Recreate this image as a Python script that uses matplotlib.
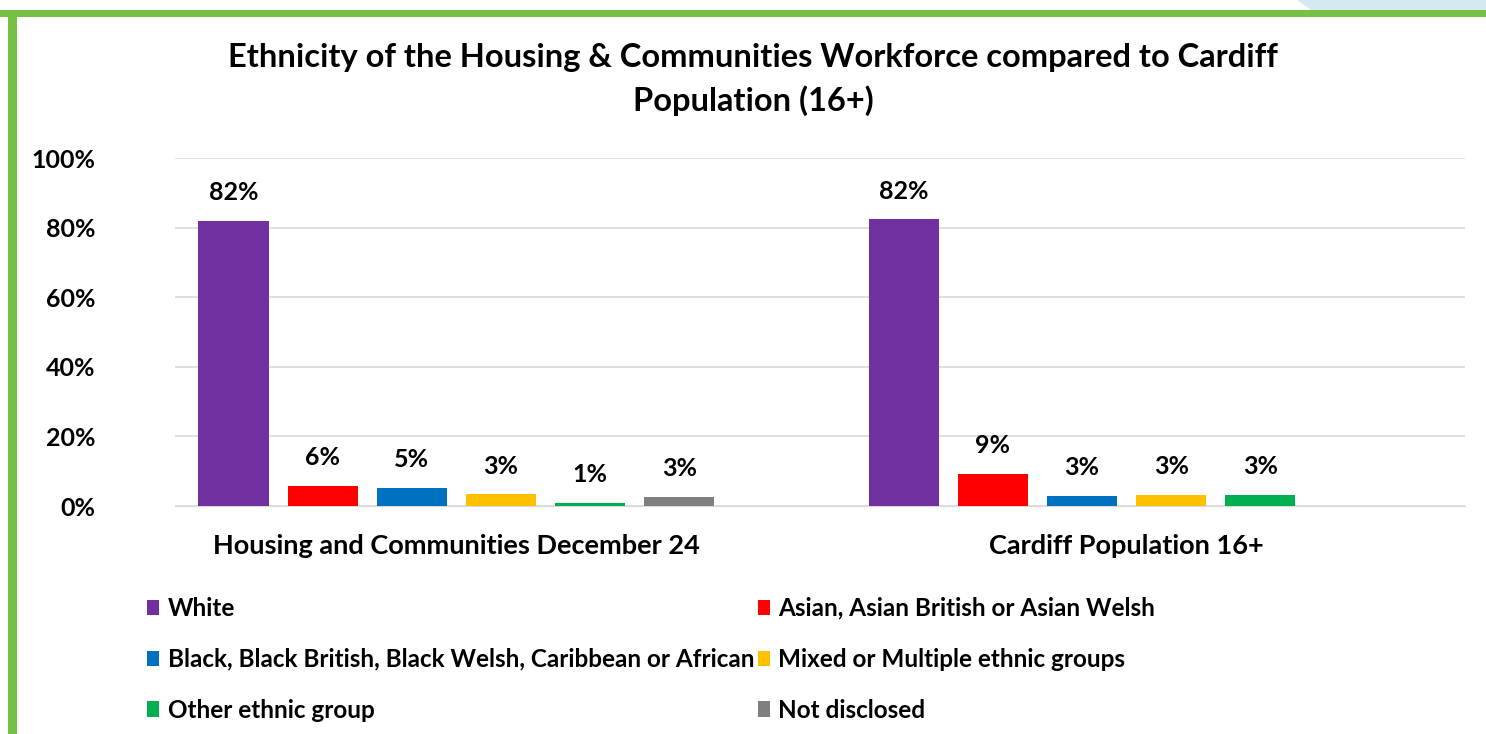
import numpy as np
import matplotlib.pyplot as plt
from matplotlib.patches import Rectangle, Polygon

plt.rcParams['font.family'] = ['Lato', 'DejaVu Sans']
plt.rcParams['font.weight'] = 'bold'

groups = ['Housing and Communities December 24', 'Cardiff Population 16+']
series = ['White', 'Asian, Asian British or Asian Welsh',
          'Black, Black British, Black Welsh, Caribbean or African',
          'Mixed or Multiple ethnic groups', 'Other ethnic group', 'Not disclosed']
colors = ['#7030A0', '#FF0000', '#0070C0', '#FFC000', '#00B050', '#7F7F7F']

# percentages per series: [Housing & Communities, Cardiff 16+]
white = [81.9, 82.4]
asian = [5.7, 9.2]
black = [5.2, 3.0]
mixed = [3.4, 3.2]
other = [0.9, 3.2]
not_disclosed = [2.6, np.nan]
values = [white, asian, black, mixed, other, not_disclosed]

fig = plt.figure(figsize=(14.86, 7.34), dpi=100)
fig.patch.set_facecolor('white')

# green frame (top and left) and corner decoration
fig.add_artist(Polygon([[0.873, 1.0], [1.0, 1.0], [1.0, 0.986], [0.882, 0.986]],
                       closed=True, transform=fig.transFigure, color='#D5EAF0', lw=0))
fig.add_artist(Rectangle((0.0, 1 - 17 / 734), 1.0, 7 / 734, transform=fig.transFigure,
                         color='#76C043', lw=0))
fig.add_artist(Rectangle((8 / 1486, 0.0), 9 / 1486, 1 - 10 / 734, transform=fig.transFigure,
                         color='#76C043', lw=0))

ax = fig.add_axes([175 / 1486, 1 - 506 / 734, 1290 / 1486, 348 / 734])
ax.set_facecolor('none')

slot = 0.133
width = 0.105
x = np.arange(len(groups))
for i, (name, vals, c) in enumerate(zip(series, values, colors)):
    pos = x + (i - 2.5) * slot
    bars = ax.bar(pos, vals, width=width, color=c, label=name, zorder=3)
    for b, v in zip(bars, vals):
        if np.isnan(v):
            continue
        ax.annotate(f'{v:.0f}%', (b.get_x() + b.get_width() / 2, v),
                    xytext=(0, 12), textcoords='offset points',
                    ha='center', va='bottom', fontsize=18, fontweight='bold')

ax.set_ylim(0, 100)
ax.set_xlim(-0.42, 1.505)
ax.set_yticks(range(0, 101, 20))
ax.set_yticklabels([f'{t}%' for t in range(0, 101, 20)])
ax.set_xticks(x)
ax.set_xticklabels(groups)
ax.tick_params(axis='both', length=0, labelsize=18)
ax.tick_params(axis='x', pad=20, labelsize=19.5)
ax.tick_params(axis='y', pad=57)
for lbl in ax.get_yticklabels():
    lbl.set_horizontalalignment('right')
ax.grid(axis='y', color='#D9D9D9', lw=1.2, zorder=0)
for s in ['top', 'right', 'left']:
    ax.spines[s].set_visible(False)
ax.spines['bottom'].set_color('#D9D9D9')

fig.text(0.507, 1 - 57 / 734, 'Ethnicity of the Housing & Communities Workforce compared to Cardiff',
         ha='center', va='center', fontsize=23.5, fontweight='bold')
fig.text(0.507, 1 - 101 / 734, 'Population (16+)',
         ha='center', va='center', fontsize=23.5, fontweight='bold')

handles, labels = ax.get_legend_handles_labels()
order = [0, 2, 4, 1, 3, 5]
fig.legend([handles[k] for k in order], [labels[k] for k in order],
           ncol=2, loc='upper left', bbox_to_anchor=(125 / 1486, 1 - 575 / 734),
           frameon=False, fontsize=17.5, handlelength=0.5, handleheight=0.6,
           handletextpad=0.35, columnspacing=0.15, labelspacing=1.15)

fig.savefig('out.png', dpi=100, facecolor='white')
